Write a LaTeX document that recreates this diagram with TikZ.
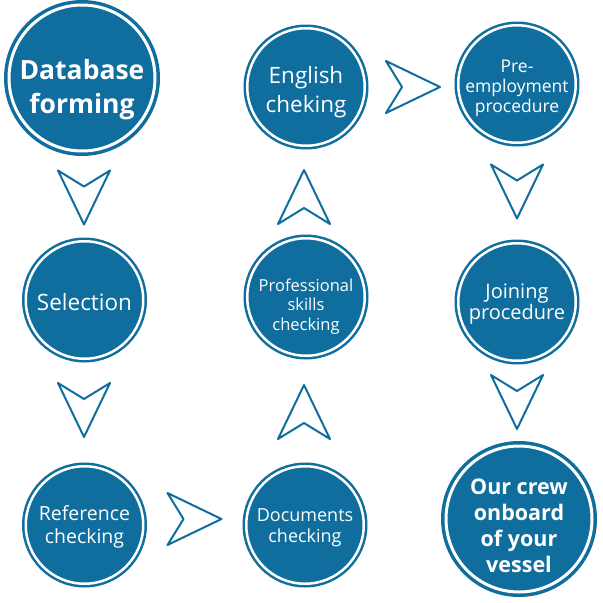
\documentclass[tikz,border=0pt]{standalone}
\usepackage{fontspec}
\setmainfont{Open Sans}
\usetikzlibrary{calc}
\definecolor{cblue}{RGB}{16,110,158}
\begin{document}
\begin{tikzpicture}[x=1pt,y=-1pt,
  smallc/.style={circle, fill=cblue, draw=cblue, line width=2.5pt, double=white, double distance=2.5pt,
    minimum size=117.5pt, inner sep=0pt},
  bigc/.style={circle, fill=cblue, draw=cblue, line width=3.5pt, double=white, double distance=3pt,
    minimum size=146pt, inner sep=0pt},
  txt/.style={text=white, align=center, inner sep=0pt},
  chev/.pic={\draw[cblue, line width=2pt, line join=round] (-27,-26) -- (27,0) -- (-27,26) -- (-11,0) -- cycle;}
]
\useasboundingbox (0,0) rectangle (603,603);
\node[bigc] (db) at (82,78) {};
\node[smallc] (sel) at (84.5,300) {};
\node[smallc] (ref) at (84.5,525) {};
\node[smallc] (doc) at (305,525) {};
\node[smallc] (prof) at (306,297) {};
\node[smallc] (eng) at (306,87) {};
\node[smallc] (pre) at (517,84) {};
\node[smallc] (join) at (517,302) {};
\node[bigc] (crew) at (519,519) {};
\node[txt, font=\bfseries\fontsize{26.5}{34}\selectfont] (dbt) at ($(db)+(0,12)$) {Database\\forming};
\node[txt, font=\fontsize{22.5}{28}\selectfont] (selt) at ($(sel)+(0,2)$) {Selection};
\node[txt, font=\fontsize{19.5}{22.5}\selectfont] (reft) at ($(ref)+(0,2)$) {Reference\\checking};
\node[txt, font=\fontsize{18}{21}\selectfont] (doct) at ($(doc)+(0,2.5)$) {Documents\\checking};
\node[txt, font=\fontsize{16.5}{19.5}\selectfont] (proft) at ($(prof)+(0,9.5)$) {Professional\\skills\\checking};
\node[txt, font=\fontsize{22.5}{29}\selectfont] (engt) at ($(eng)+(0,5)$) {English\\cheking};
\node[txt, font=\fontsize{17.5}{20}\selectfont] (pret) at ($(pre)+(0,4)$) {Pre-\\employment\\procedure};
\node[txt, font=\fontsize{20}{21.5}\selectfont] (joint) at ($(join)+(0,2)$) {Joining\\procedure};
\node[txt, font=\bfseries\fontsize{21.5}{26}\selectfont] (crewt) at ($(crew)+(0,7)$) {Our crew\\onboard\\of your\\vessel};
\pic[rotate=-90] at (84,197.5) {chev};
\pic[rotate=-90] at (84,410) {chev};
\pic at (194.5,519) {chev};
\pic[rotate=90] at (304,412) {chev};
\pic[rotate=90] at (304,197) {chev};
\pic at (413,87) {chev};
\pic[rotate=-90] at (517,191.5) {chev};
\pic[rotate=-90] at (517,402) {chev};
\end{tikzpicture}
\end{document}
